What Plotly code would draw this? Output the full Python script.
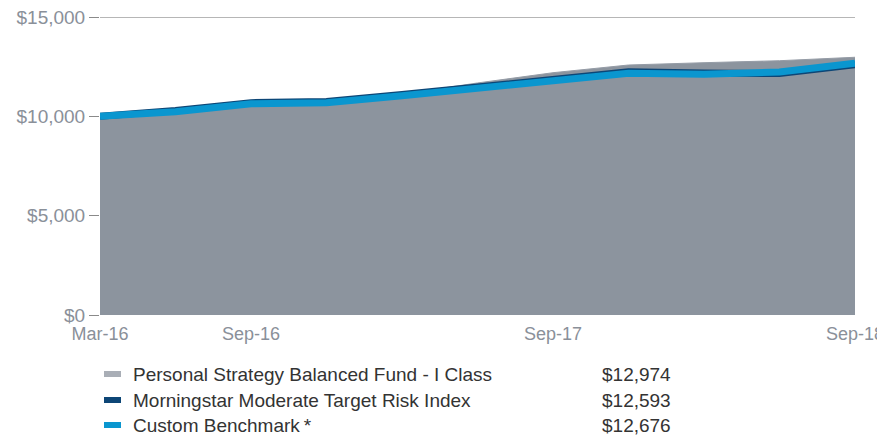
import plotly.graph_objects as go

# ---- data ----
periods = ["Mar-16", "Jun-16", "Sep-16", "Dec-16", "Mar-17", "Jun-17",
           "Sep-17", "Dec-17", "Mar-18", "Jun-18", "Sep-18"]
fund = [10000, 10240, 10620, 10680, 11120, 11680, 12196, 12584, 12700, 12800, 12974]
morningstar = [10000, 10300, 10690, 10750, 11097, 11477, 11904, 12241, 12181, 12156, 12593]
custom = [10000, 10226, 10630, 10690, 11037, 11409, 11829, 12166, 12121, 12231, 12676]

series_names = ["Personal Strategy Balanced Fund - I Class",
                "Morningstar Moderate Target Risk Index",
                "Custom Benchmark\u2009*"]
series_final = ["$12,974", "$12,593", "$12,676"]
series_colors = ["#a9aeb6", "#0d4676", "#0a96cf"]

x_tickvals = ["Mar-16", "Sep-16", "Sep-17", "Sep-18"]
y_tickvals = [0, 5000, 10000, 15000]
y_ticktext = ["$0", "$5,000", "$10,000", "$15,000"]

FONT = "Liberation Sans"
AXIS_GRAY = "#8a9099"
FS = 19

# the page body has an 8px margin; figure coordinates are page coords - 8
OFF = 8
W, H = 885 - OFF, 435 - OFF
L, T, PW, PH = 100 - OFF, 17 - OFF, 755, 298

fig = go.Figure()
fig.add_trace(go.Scatter(x=periods, y=fund, mode="lines", fill="tozeroy",
                         fillcolor="#8c949e", line=dict(color="#959ca6", width=1),
                         name=series_names[0], showlegend=False))
fig.add_trace(go.Scatter(x=periods, y=morningstar, mode="lines",
                         line=dict(color=series_colors[1], width=7),
                         name=series_names[1], showlegend=False))
fig.add_trace(go.Scatter(x=periods, y=custom, mode="lines",
                         line=dict(color=series_colors[2], width=7),
                         name=series_names[2], showlegend=False))

fig.update_xaxes(type="category", range=[0, len(periods) - 1],
                 tickvals=x_tickvals, ticktext=x_tickvals, automargin=False,
                 ticklabeloverflow="allow",
                 ticks="outside", ticklen=2, tickcolor="rgba(0,0,0,0)",
                 showgrid=False, zeroline=False, showline=False,
                 tickfont=dict(family=FONT, size=18, color=AXIS_GRAY))
fig.update_yaxes(range=[0, 15000], tickvals=y_tickvals, ticktext=y_ticktext,
                 automargin=False, ticklabeloverflow="allow",
                 ticks="outside", ticklen=10, tickcolor="#8a8a8a", tickwidth=1,
                 showgrid=False, zeroline=False, showline=False,
                 tickfont=dict(family=FONT, size=FS, color=AXIS_GRAY))

# top reference line at $15,000
fig.add_shape(type="line", xref="paper", yref="y", x0=0, x1=1, y0=15000, y1=15000,
              line=dict(color="#6f6f6f", width=1))

# custom legend below the chart (page pixel positions converted to paper coords)
row_y = [374, 400, 425]
for i, name in enumerate(series_names):
    yp = 1 - (row_y[i] - OFF - T) / PH
    fig.add_shape(type="line", xref="paper", yref="paper",
                  x0=(104 - OFF - L) / PW, x1=(121 - OFF - L) / PW, y0=yp, y1=yp,
                  line=dict(color=series_colors[i], width=6))
    fig.add_annotation(xref="paper", yref="paper", x=(131 - OFF - L) / PW, y=yp,
                       text=name, showarrow=False, xanchor="left", yanchor="middle",
                       font=dict(family=FONT, size=FS, color="#333333"))
    fig.add_annotation(xref="paper", yref="paper", x=(600 - OFF - L) / PW, y=yp,
                       text=series_final[i], showarrow=False, xanchor="left",
                       yanchor="middle",
                       font=dict(family=FONT, size=FS, color="#333333"))

fig.update_layout(width=W, height=H,
                  margin=dict(l=L, r=W - L - PW, t=T, b=H - T - PH),
                  paper_bgcolor="white", plot_bgcolor="white",
                  showlegend=False)

fig.write_html("out.html")
